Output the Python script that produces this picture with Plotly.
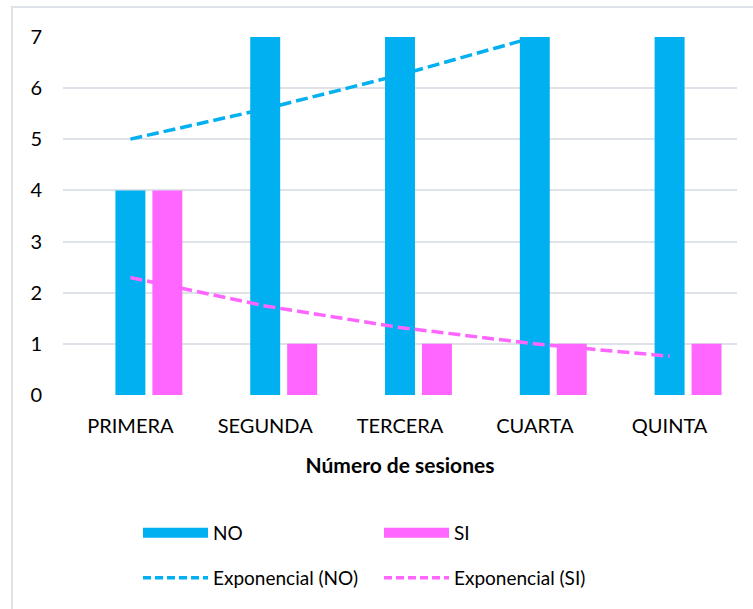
import numpy as np
import plotly.graph_objects as go

categories = ["PRIMERA", "SEGUNDA", "TERCERA", "CUARTA", "QUINTA"]
no_values = [4, 7, 7, 7, 7]
si_values = [4, 1, 1, 1, 1]
y_ticks = [0, 1, 2, 3, 4, 5, 6, 7]

BLUE = "#00B0F0"
PINK = "#FF66FF"
GRID = "#DEE2E9"
FONT = "Lato, Carlito, Calibri, sans-serif"


def exp_trend(values):
    x = np.arange(1, len(values) + 1)
    b, a = np.polyfit(x, np.log(values), 1)
    return list(np.exp(a + b * x))


no_trend = exp_trend(no_values)
si_trend = exp_trend(si_values)

W, H = 753, 609
ML, MR, MT, MB = 63, 16, 37, 214

fig = go.Figure()
bw = 30 / 135
fig.add_trace(go.Bar(x=categories, y=no_values, marker_color=BLUE, marker_line_width=0,
                     width=bw, offset=-bw / 2, showlegend=False, name="NO"))
fig.add_trace(go.Bar(x=categories, y=si_values, marker_color=PINK, marker_line_width=0,
                     width=bw, offset=22 / 135, showlegend=False, name="SI"))
fig.add_trace(go.Scatter(x=categories, y=no_trend, mode="lines", showlegend=False,
                         line=dict(color=BLUE, width=3.5, dash="12px,5px")))
fig.add_trace(go.Scatter(x=categories, y=si_trend, mode="lines", showlegend=False,
                         line=dict(color=PINK, width=3.5, dash="12px,5px")))

# legend entries
fig.add_trace(go.Scatter(x=[None], y=[None], mode="lines", name="NO",
                         line=dict(color=BLUE, width=13), legend="legend"))
fig.add_trace(go.Scatter(x=[None], y=[None], mode="lines", name="SI",
                         line=dict(color=PINK, width=13), legend="legend"))
fig.add_trace(go.Scatter(x=[None], y=[None], mode="lines", name="Exponencial (NO)",
                         line=dict(color=BLUE, width=3.5, dash="8px,4px"), legend="legend2"))
fig.add_trace(go.Scatter(x=[None], y=[None], mode="lines", name="Exponencial (SI)",
                         line=dict(color=PINK, width=3.5, dash="8px,4px"), legend="legend2"))

legend_common = dict(orientation="h", xref="container", yref="container",
                     x=(143 - 5) / W, xanchor="left", yanchor="middle",
                     itemwidth=65, entrywidth=161, entrywidthmode="pixels",
                     font=dict(family=FONT, size=19, color="#000000"),
                     bgcolor="rgba(0,0,0,0)", borderwidth=0,
                     itemclick=False, itemdoubleclick=False)

fig.update_layout(
    width=W, height=H,
    margin=dict(l=ML, r=MR, t=MT, b=MB, autoexpand=False),
    paper_bgcolor="white", plot_bgcolor="white",
    barmode="overlay",
    font=dict(family=FONT, size=19, color="#000000"),
    xaxis=dict(type="category", showgrid=False, zeroline=False, showline=False,
               ticks="", ticklabelstandoff=17,
               tickfont=dict(family=FONT, size=20, color="#000000"),
               title=dict(text="<b>Número de sesiones</b>", standoff=22,
                          font=dict(family=FONT, size=21, color="#000000"))),
    yaxis=dict(range=[0, 7], tickvals=y_ticks, showgrid=True, gridcolor=GRID, gridwidth=2,
               zeroline=False, showline=False, ticks="", ticklabelstandoff=20,
               tickfont=dict(family=FONT, size=20, color="#000000")),
    legend=dict(legend_common, y=1 - 533 / H),
    legend2=dict(legend_common, y=1 - 578 / H),
    shapes=[dict(type="rect", xref="paper", yref="paper",
                 x0=(12 - ML) / 674, x1=(W + 5 - ML) / 674,
                 y0=-(H + 5 - 395) / 358, y1=1 + (MT - 7) / 358,
                 line=dict(color=GRID, width=2), fillcolor="rgba(0,0,0,0)", layer="below")],
)

fig.write_html("out.html", config={"displayModeBar": False},
               post_script="document.body.style.margin='0';")
